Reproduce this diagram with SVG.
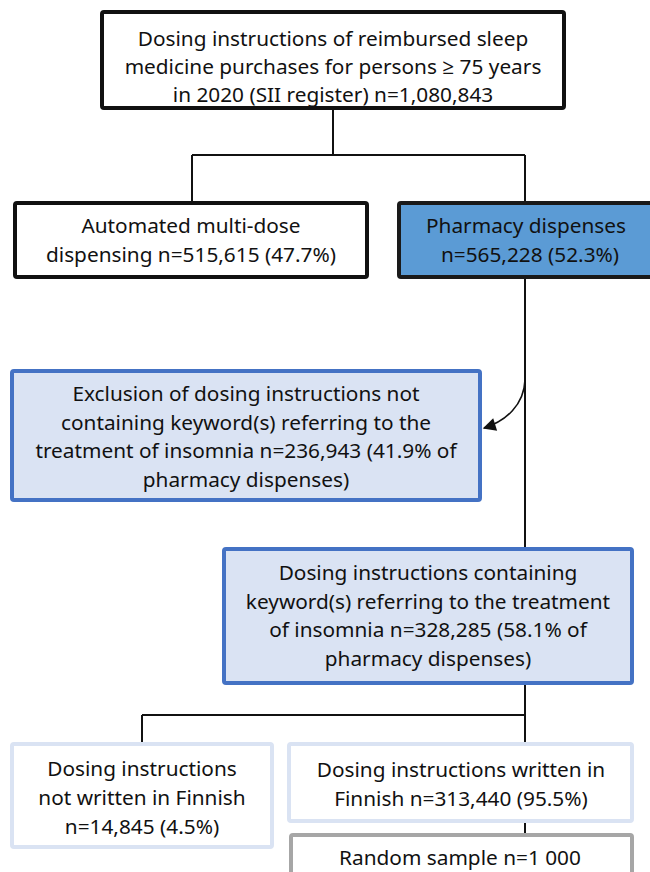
<svg xmlns="http://www.w3.org/2000/svg" width="650" height="872" viewBox="0 0 650 872">
<style>
text{font-family:"Noto Sans","Open Sans","DejaVu Sans",sans-serif;font-size:20.8px;fill:#111;text-anchor:middle}
.blk{fill:#fff;stroke:#111;stroke-width:4}
.dark{fill:#5B9BD5;stroke:#1a1a1a;stroke-width:4}
.blue{fill:#DAE3F3;stroke:#4472C4;stroke-width:4}
.light{fill:#fff;stroke:#DAE3F3;stroke-width:4}
.gray{fill:#fff;stroke:#A6A6A6;stroke-width:4}
.ln{fill:none;stroke:#111;stroke-width:2}
</style>
<defs>
<marker id="ah" viewBox="0 0 10 10" refX="9" refY="5" markerWidth="15" markerHeight="13" markerUnits="userSpaceOnUse" orient="auto"><path d="M0,0L10,5L0,10z" fill="#111"/></marker>
</defs>
<g id="connectors">
<path class="ln" d="M333,108V155M192,155H525M192,155V203M525,155V203"/>
<path class="ln" d="M525,277V715"/>
<path class="ln" d="M525,380C524,405 506,421 484,428" marker-end="url(#ah)" style="stroke-width:1.6"/>
<path class="ln" d="M142,715H525M142,715V744M525,715V744"/>
<path class="ln" d="M525,821V834"/>
</g>
<g id="n1"><rect class="blk" x="102" y="12" width="462" height="96" rx="2"/>
<text x="333" y="46">Dosing instructions of reimbursed sleep</text>
<text x="333" y="74">medicine purchases for persons ≥ 75 years</text>
<text x="333" y="102">in 2020 (SII register) n=1,080,843</text></g>
<g id="n2"><rect class="blk" x="15" y="203" width="352" height="74" rx="2"/>
<text x="191" y="233">Automated multi-dose</text>
<text x="191" y="262">dispensing n=515,615 (47.7%)</text></g>
<g id="n3"><rect class="dark" x="399" y="203" width="260" height="74" rx="2"/>
<text x="526" y="233">Pharmacy dispenses</text>
<text x="530" y="262">n=565,228 (52.3%)</text></g>
<g id="n4"><rect class="blue" x="12" y="371" width="468" height="129" rx="2"/>
<text x="246" y="401">Exclusion of dosing instructions not</text>
<text x="246" y="430">containing keyword(s) referring to the</text>
<text x="246" y="458">treatment of insomnia n=236,943 (41.9% of</text>
<text x="246" y="487">pharmacy dispenses)</text></g>
<g id="n5"><rect class="blue" x="224" y="549" width="408" height="134" rx="2"/>
<text x="428" y="580">Dosing instructions containing</text>
<text x="428" y="609">keyword(s) referring to the treatment</text>
<text x="428" y="637">of insomnia n=328,285 (58.1% of</text>
<text x="428" y="666">pharmacy dispenses)</text></g>
<g id="n6"><rect class="light" x="12" y="744" width="260" height="103" rx="2"/>
<text x="142" y="776">Dosing instructions</text>
<text x="142" y="805">not written in Finnish</text>
<text x="142" y="834">n=14,845 (4.5%)</text></g>
<g id="n7"><rect class="light" x="289" y="744" width="343" height="77" rx="2"/>
<text x="461" y="777">Dosing instructions written in</text>
<text x="461" y="806">Finnish n=313,440 (95.5%)</text></g>
<g id="n8"><rect class="gray" x="291" y="835" width="341" height="60" rx="2"/>
<text x="460" y="865">Random sample n=1 000</text></g>
</svg>
